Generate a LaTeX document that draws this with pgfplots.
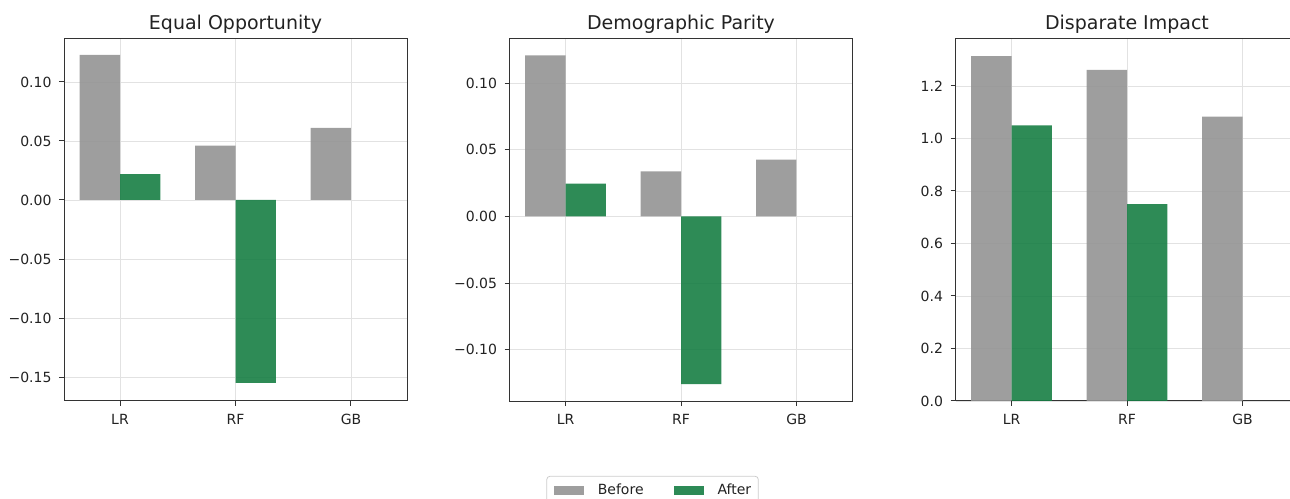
\documentclass[border=0pt]{standalone}
\usepackage{pgfplots}
\pgfplotsset{compat=1.18}
\usepackage{fontspec}
\setmainfont{DejaVu Sans}
\definecolor{bargray}{RGB}{148,148,148}
\definecolor{bargreen}{RGB}{23,126,68}
\definecolor{gridc}{RGB}{226,226,226}
\definecolor{framec}{RGB}{51,51,51}
\definecolor{textc}{RGB}{34,34,34}
\pgfplotsset{
 panel/.style={
  scale only axis, width=343bp, height=362bp, anchor=south west,
  xmin=-0.485, xmax=2.485, xtick={0,1,2}, xticklabels={LR,RF,GB},
  ybar, bar width=0.35,
  grid=major, major grid style={gridc, line width=0.9bp},
  axis line style={framec, line width=1bp},
  tick style={framec, line width=1bp},
  major tick length=5bp, tick align=outside,
  xtick pos=bottom, ytick pos=left,
  tick label style={font=\fontsize{14bp}{16bp}\selectfont, text=textc},
  yticklabel style={xshift=-4bp},
  xticklabel style={yshift=-4.5bp},
  title style={font=\fontsize{19bp}{22bp}\selectfont, text=textc, at={(0.5,1)}, anchor=south, inner sep=0pt, yshift=-1bp},
  axis on top=false,
  legend image code/.code={\fill[#1, sharp corners] (0bp,-4.5bp) rectangle (30bp,4.5bp);},
 },
 before/.style={fill=bargray, draw=none, fill opacity=0.9, bar shift=-0.175},
 after/.style={fill=bargreen, draw=none, fill opacity=0.9, bar shift=0.175},
}
\begin{document}
\begin{tikzpicture}
\useasboundingbox (0,0) rectangle (1290bp,499bp);
% Panel 1
\begin{axis}[panel, at={(64bp,98bp)}, title={Equal Opportunity},
  ymin=-0.1703, ymax=0.1364,
  ytick={-0.15,-0.1,-0.05,0,0.05,0.1},
  yticklabels={−0.15,−0.10,−0.05,0.00,0.05,0.10}]
\addplot[before] coordinates {(0,0.1229) (1,0.046) (2,0.061)};
\addplot[after] coordinates {(0,0.022) (1,-0.155)};
\end{axis}
% Panel 2
\begin{axis}[panel, at={(509.5bp,98bp)}, title={Demographic Parity},
  ymin=-0.1385, ymax=0.1332,
  ytick={-0.1,-0.05,0,0.05,0.1},
  yticklabels={−0.10,−0.05,0.00,0.05,0.10},
  legend style={at={(0.417,-0.207)}, anchor=north, legend columns=2,
    draw=black!20, rounded corners=3bp, line width=0.8bp,
    font=\fontsize{14bp}{16bp}\selectfont, text=textc,
    inner xsep=7bp, inner ysep=6bp,
    nodes={inner xsep=0bp},
    /tikz/every odd column/.append style={column sep=14bp},
    /tikz/every even column/.append style={column sep=30bp}},
  legend cell align=left]
\addplot[before] coordinates {(0,0.121) (1,0.0338) (2,0.0426)};
\addlegendentry{Before}
\addplot[after] coordinates {(0,0.0246) (1,-0.1258)};
\addlegendentry{After}
\end{axis}
% Panel 3
\begin{axis}[panel, at={(955.5bp,98bp)}, title={Disparate Impact},
  ymin=0, ymax=1.379,
  ytick={0,0.2,0.4,0.6,0.8,1.0,1.2},
  yticklabels={0.0,0.2,0.4,0.6,0.8,1.0,1.2}]
\addplot[before] coordinates {(0,1.314) (1,1.261) (2,1.083)};
\addplot[after] coordinates {(0,1.050) (1,0.750)};
\end{axis}
\end{tikzpicture}
\end{document}
